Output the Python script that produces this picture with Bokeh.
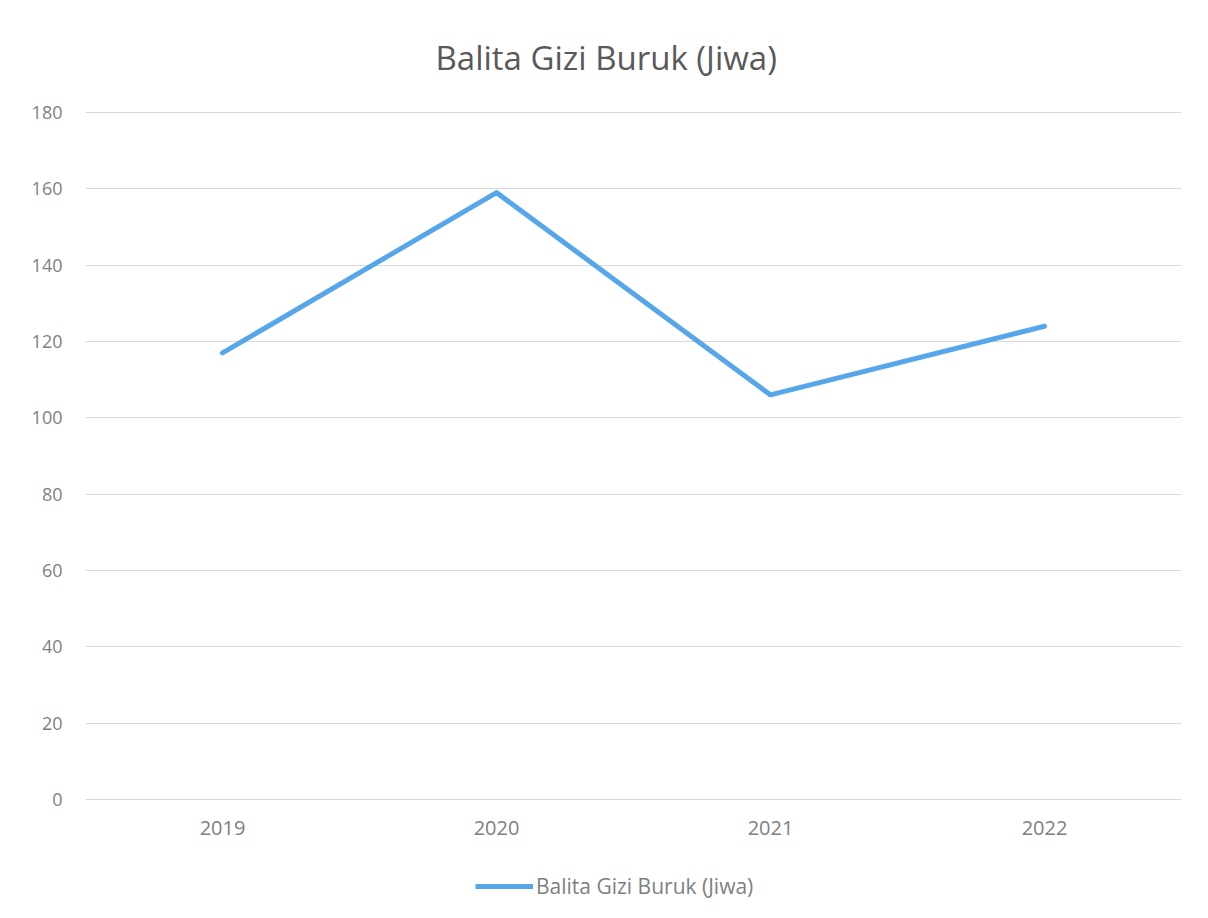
from bokeh.plotting import figure
from bokeh.models import Legend, LegendItem, FixedTicker, Title, Range1d
from bokeh.layouts import column
from bokeh.embed import file_html
from bokeh.resources import INLINE

years = ["2019", "2020", "2021", "2022"]
values = [117, 159, 106, 124]
series_name = "Balita Gizi Buruk (Jiwa)"
y_ticks = [0, 20, 40, 60, 80, 100, 120, 140, 160, 180]

FONT = "Open Sans"
TXT = "#7f7f7f"
LINE = "#56a7ea"

p = figure(x_range=years, y_range=Range1d(-0.25, 180.25), width=1192, height=850,
           output_backend="svg", toolbar_location=None,
           min_border_left=85, min_border_right=11, min_border_top=109, min_border_bottom=50)

r = p.line(years, values, line_color=LINE, line_width=5, line_join="round", line_cap="round")

t = Title(text="Balita Gizi Buruk (Jiwa)", align="left", text_font=FONT,
          text_font_size="33px", text_color="#595959", text_font_style="normal",
          offset=350, standoff=64)
p.add_layout(t, "above")

p.outline_line_color = None
p.xgrid.grid_line_color = None
p.ygrid.grid_line_color = "#d9d9d9"
p.ygrid.grid_line_width = 1
p.yaxis.ticker = FixedTicker(ticks=y_ticks)

for ax in (p.xaxis, p.yaxis):
    ax.axis_line_color = None
    ax.major_tick_line_color = None
    ax.minor_tick_line_color = None
    ax.major_label_text_font = FONT
    ax.major_label_text_color = TXT
p.yaxis.major_label_text_font_size = "18px"
p.xaxis.major_label_text_font_size = "20px"
p.yaxis.major_label_standoff = 17
p.xaxis.major_label_standoff = 14

# legend strip below the chart
q = figure(width=1192, height=52, output_backend="svg", toolbar_location=None,
           x_range=Range1d(0, 1), y_range=Range1d(0, 1),
           min_border_left=0, min_border_right=0, min_border_top=0, min_border_bottom=0)
q.axis.visible = False
q.grid.visible = False
q.outline_line_color = None
lr = q.line([5, 6], [5, 6], line_color=LINE, line_width=5)
legend = Legend(items=[LegendItem(label=series_name, renderers=[lr])],
                location=(390, 2), orientation="horizontal",
                label_text_font=FONT, label_text_font_size="21px", label_text_color=TXT,
                glyph_width=58, label_standoff=3, border_line_color=None,
                background_fill_alpha=0, padding=4, margin=0)
q.add_layout(legend, "center")

layout = column(p, q, spacing=0)
open("out.html", "w").write(file_html(layout, INLINE))
